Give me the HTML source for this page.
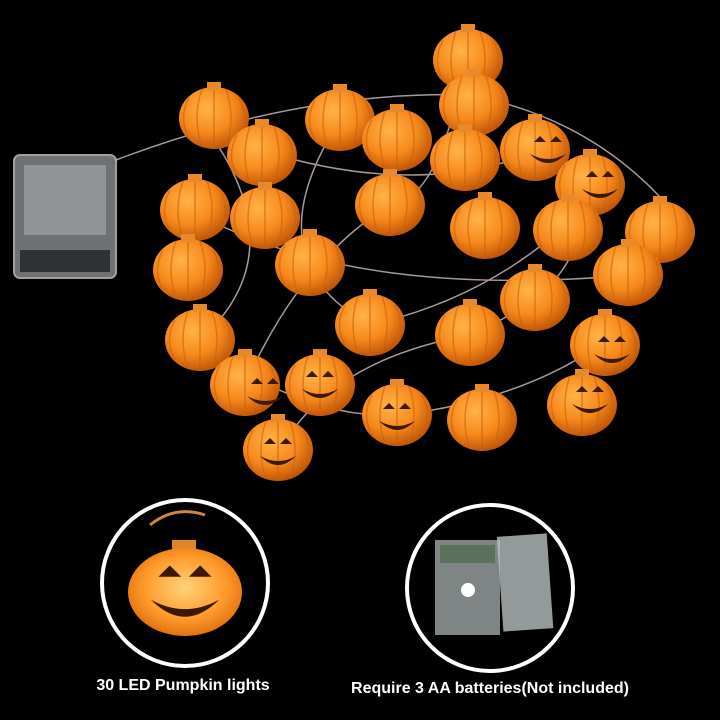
<!DOCTYPE html>
<html><head><meta charset="utf-8"><style>
html,body{margin:0;padding:0;background:#000;}
svg{display:block;}
</style></head><body>
<svg width="720" height="720" viewBox="0 0 720 720" xmlns="http://www.w3.org/2000/svg">
<defs>
<radialGradient id="pg" cx="40%" cy="35%" r="70%">
<stop offset="0" stop-color="#ffb347"/><stop offset="0.55" stop-color="#f7891c"/><stop offset="1" stop-color="#b84f04"/>
</radialGradient>
<radialGradient id="glow" cx="50%" cy="45%" r="60%">
<stop offset="0" stop-color="#ffd27a"/><stop offset="0.6" stop-color="#ff9a2a"/><stop offset="1" stop-color="#d86a0a"/>
</radialGradient>
<g id="pk">
<ellipse cx="0" cy="0" rx="35" ry="31" fill="url(#pg)"/>
<path d="M-12,-29 Q-22,0 -12,29 M12,-29 Q22,0 12,29 M0,-31 L0,31 M-25,-20 Q-36,0 -25,20 M25,-20 Q36,0 25,20" stroke="#c8620a" stroke-width="1.5" fill="none" opacity="0.6"/>
<rect x="-7" y="-36" width="14" height="8" fill="#e88a2a"/>
</g>
<g id="face">
<path d="M-14,-8 l6,-6 l6,6 z M2,-8 l6,-6 l6,6 z" fill="#3a1a05"/>
<path d="M-18,4 Q0,22 18,4 Q0,14 -18,4 z" fill="#3a1a05"/>
</g>
</defs>
<rect width="720" height="720" fill="#000"/>
<g stroke="#e2cccc" stroke-width="1.5" fill="none" opacity="0.75">
<path d="M116,160 Q300,90 470,95 Q600,120 680,220"/>
<path d="M200,120 Q300,250 200,340 Q300,420 400,415 Q520,400 600,345"/>
<path d="M260,150 Q420,200 540,150 Q640,260 470,335 Q330,360 280,450"/>
<path d="M190,210 Q350,300 630,275"/>
<path d="M340,120 Q250,260 370,325 Q480,300 560,230"/>
<path d="M465,60 Q440,200 390,205 Q300,260 245,385"/>
</g>
<rect x="14" y="155" width="102" height="123" rx="6" fill="#8a8f90" opacity="0.8" stroke="#c8c8c8" stroke-width="2"/>
<rect x="24" y="165" width="82" height="70" fill="#a8adad" opacity="0.6"/>
<rect x="20" y="250" width="90" height="22" fill="#2e3233"/>
<g>
<use href="#pk" x="214" y="118"/><use href="#pk" x="468" y="60"/><use href="#pk" x="474" y="105"/>
<use href="#pk" x="340" y="120"/><use href="#pk" x="397" y="140"/><use href="#pk" x="262" y="155"/>
<use href="#pk" x="535" y="150"/><use href="#pk" x="590" y="185"/><use href="#pk" x="465" y="160"/>
<use href="#pk" x="195" y="210"/><use href="#pk" x="265" y="218"/><use href="#pk" x="390" y="205"/>
<use href="#pk" x="568" y="230"/><use href="#pk" x="485" y="228"/><use href="#pk" x="660" y="232"/>
<use href="#pk" x="188" y="270"/><use href="#pk" x="310" y="265"/><use href="#pk" x="628" y="275"/>
<use href="#pk" x="535" y="300"/><use href="#pk" x="370" y="325"/><use href="#pk" x="470" y="335"/>
<use href="#pk" x="200" y="340"/><use href="#pk" x="605" y="345"/><use href="#pk" x="245" y="385"/>
<use href="#pk" x="320" y="385"/><use href="#pk" x="397" y="415"/><use href="#pk" x="482" y="420"/>
<use href="#pk" x="582" y="405"/><use href="#pk" x="278" y="450"/>
<use href="#face" x="278" y="452"/><use href="#face" x="397" y="417"/><use href="#face" x="320" y="385"/>
<use href="#face" x="548" y="150"/><use href="#face" x="600" y="185"/><use href="#face" x="590" y="400"/>
<use href="#face" x="612" y="350"/><use href="#face" x="265" y="392"/>
</g>
<circle cx="185" cy="583" r="83" fill="#000" stroke="#fff" stroke-width="4"/>
<path d="M150,525 Q175,505 205,515" stroke="#c98a3a" stroke-width="3" fill="none"/>
<rect x="172" y="540" width="24" height="16" fill="#e0862a"/>
<ellipse cx="185" cy="592" rx="57" ry="44" fill="url(#glow)"/>
<g transform="translate(185,592) scale(1.9)"><use href="#face"/></g>
<circle cx="490" cy="588" r="83" fill="#000" stroke="#fff" stroke-width="4"/>
<rect x="435" y="540" width="65" height="95" fill="#8d9394" opacity="0.9"/>
<rect x="500" y="535" width="50" height="95" fill="#b9bfc0" opacity="0.8" transform="rotate(-4 525 582)"/>
<circle cx="468" cy="590" r="7" fill="#fff"/>
<rect x="440" y="545" width="55" height="18" fill="#4a6a4a" opacity="0.7"/>
<text x="183" y="690" fill="#fff" font-family="Liberation Sans, sans-serif" font-weight="bold" font-size="16" text-anchor="middle">30 LED Pumpkin lights</text>
<text x="490" y="693" fill="#fff" font-family="Liberation Sans, sans-serif" font-weight="bold" font-size="16" text-anchor="middle">Require 3 AA batteries(Not included)</text>
</svg>
</body></html>
